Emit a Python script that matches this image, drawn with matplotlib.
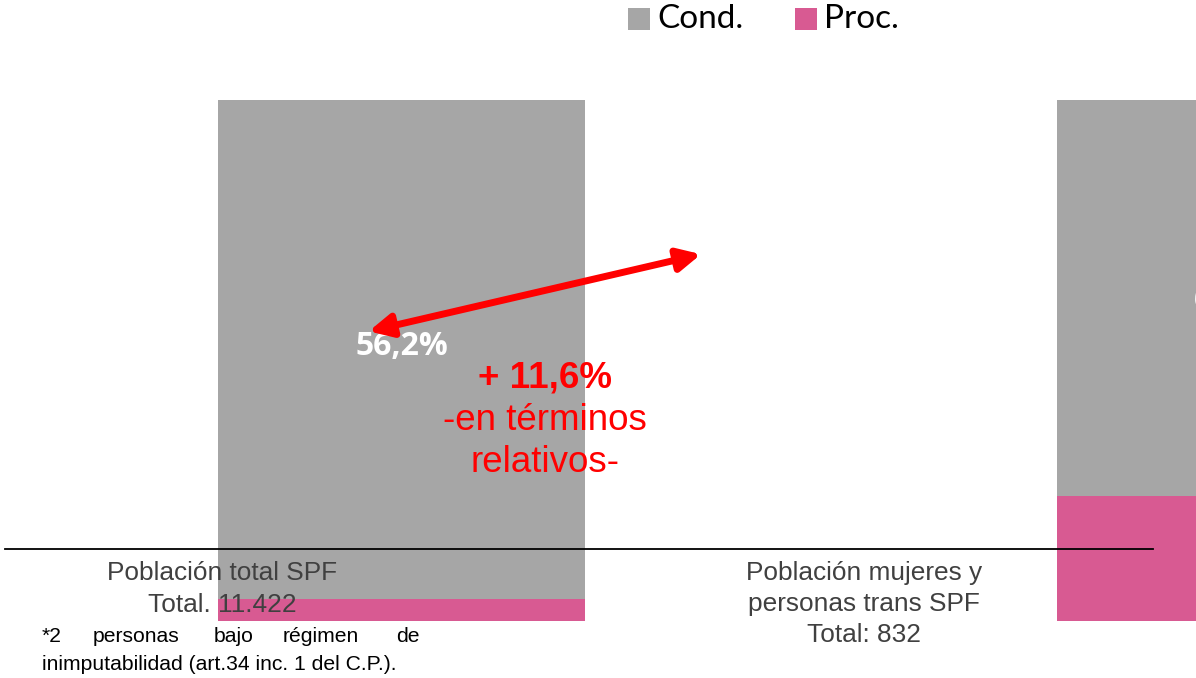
import matplotlib
matplotlib.use("Agg")
import matplotlib.pyplot as plt
from matplotlib.lines import Line2D

# ---- data ----
categories = ["Población total SPF", "Población mujeres y personas trans SPF"]
cond_values = [95.8, 76.0]
proc_values = [4.2, 24.0]
bar_labels = ["56,2%", "67,8%"]
label_heights = [52.6, 61.6]
series_names = ["Cond.", "Proc."]
colors = ["#A6A6A6", "#D85A92"]

W, H = 1196, 678
fig = plt.figure(figsize=(W / 100, H / 100), dpi=100)

# axes spanning the bar area: y 0..100 maps to px 621..100
ax = fig.add_axes([0, (H - 621) / H, 1, 521 / H])
bar_w = 367 / 839
left = -401.5 / 839
right = (W - 401.5) / 839
x = [0, 1]
ax.bar(x, proc_values, width=bar_w, color=colors[1], linewidth=0)
ax.bar(x, cond_values, width=bar_w, bottom=proc_values, color=colors[0], linewidth=0)
ax.set_xlim(left, right)
ax.set_ylim(0, 100)
ax.axis("off")

for xi, lab, yh in zip(x, bar_labels, label_heights):
    ax.text(xi, yh, lab, color="white", fontsize=23, fontweight="bold",
            family="Open Sans", ha="center", va="center")

# arrow
ax.annotate("", xy=(x[0] - 0.039, 55.6), xytext=(0.357, 70.4),
            arrowprops=dict(arrowstyle="<|-|>", color="#FF0000", lw=5,
                            mutation_scale=34, shrinkA=0, shrinkB=0))

def px(xp, yp):
    return xp / W, 1 - yp / H

red = "#FF0000"
fig.text(*px(545, 378), "+ 11,6%", color=red, fontsize=26.5, fontweight="bold",
         family="Liberation Sans", ha="center", va="center")
fig.text(*px(545, 420), "-en términos", color=red, fontsize=26.5,
         family="Liberation Sans", ha="center", va="center")
fig.text(*px(545, 463), "relativos-", color=red, fontsize=26.5,
         family="Liberation Sans", ha="center", va="center")

# baseline rule
fig.add_artist(Line2D([5 / W, 1153 / W], [1 - 549 / H, 1 - 549 / H],
                      color="black", lw=1.3))

gray_txt = "#404040"
fs_lab = 18.9
fig.text(*px(222, 573), "Población total SPF", color=gray_txt, fontsize=fs_lab,
         family="Liberation Sans", ha="center", va="center")
fig.text(*px(222, 605), "Total. 11.422", color=gray_txt, fontsize=fs_lab,
         family="Liberation Sans", ha="center", va="center")
fig.text(*px(864, 573), "Población mujeres y", color=gray_txt, fontsize=fs_lab,
         family="Liberation Sans", ha="center", va="center")
fig.text(*px(864, 604), "personas trans SPF", color=gray_txt, fontsize=fs_lab,
         family="Liberation Sans", ha="center", va="center")
fig.text(*px(864, 635), "Total: 832", color=gray_txt, fontsize=fs_lab,
         family="Liberation Sans", ha="center", va="center")

# footnote (justified first line)
fs_note = 15.2
for wx, word, hal in [(42, "*2", "left"), (93, "personas", "left"),
                      (234, "bajo", "center"), (321, "régimen", "center"),
                      (420, "de", "right")]:
    fig.text(*px(wx, 637), word, color="black", fontsize=fs_note,
             family="Liberation Sans", ha=hal, va="center")
fig.text(*px(42, 664), "inimputabilidad (art.34 inc. 1 del C.P.).", color="black",
         fontsize=fs_note, family="Liberation Sans", ha="left", va="center")

# legend
for (sx, tx), name, c in zip([(628, 657), (795, 824)], series_names, colors):
    fig.add_artist(plt.Rectangle((sx / W, 1 - 30 / H), 22 / W, 22 / H,
                                 transform=fig.transFigure, color=c, lw=0))
    fig.text(*px(tx, 19), name, color="black", fontsize=24, family="Lato",
             ha="left", va="center")

fig.savefig("out.png", dpi=100)
